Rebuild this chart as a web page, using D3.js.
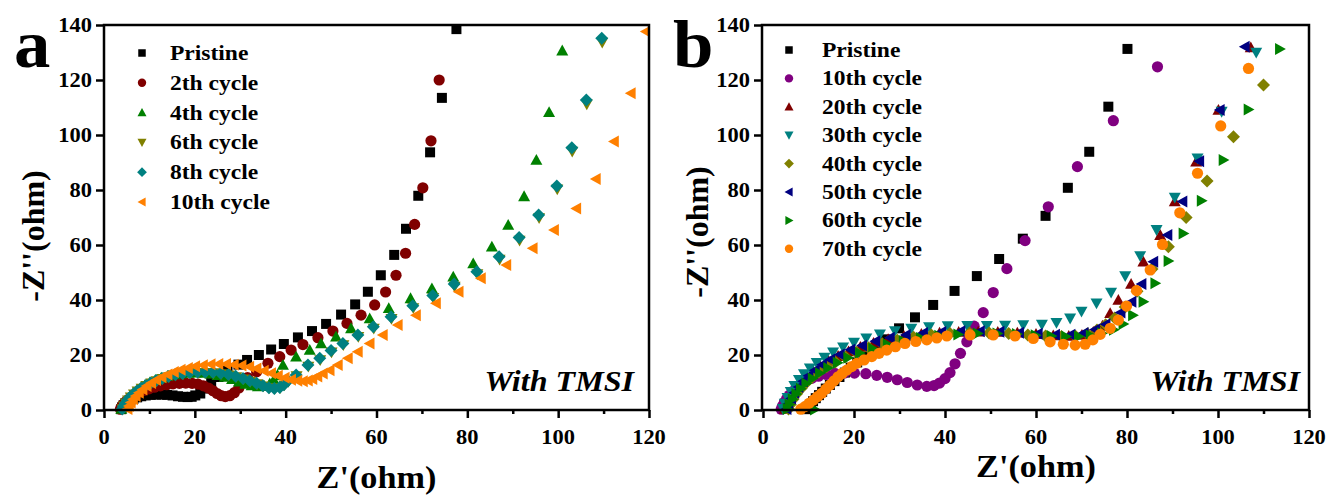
<!DOCTYPE html>
<html>
<head>
<meta charset="utf-8">
<script src="https://cdn.jsdelivr.net/npm/d3@7"></script>
<style>
  html, body { margin: 0; padding: 0; background: #fff; }
  svg { display: block; }
  text { font-family: "Liberation Serif", "Times New Roman", serif; font-weight: bold; fill: #000; }
</style>
</head>
<body>
<svg id="chart" width="1331" height="495"></svg>
<script>
// ---- Axis ticks ----
const xTicks = [0, 20, 40, 60, 80, 100, 120];
const xMinorTicks = [10, 30, 50, 70, 90, 110];
const yTicks = [0, 20, 40, 60, 80, 100, 120, 140];

// ---- Panel a: Nyquist plots, [Z', -Z''] in ohm ----
const aLabels = ["Pristine", "2th cycle", "4th cycle", "6th cycle", "8th cycle", "10th cycle"];
const aPristine = [[3.8,0.3],[4.0,1.0],[4.3,1.7],[4.7,2.4],[5.2,3.0],[5.8,3.6],[6.5,4.1],[7.3,4.6],[8.2,5.0],[9.2,5.3],[10.3,5.5],[11.5,5.6],[12.7,5.6],[13.9,5.5],[15.1,5.3],[16.3,5.0],[17.4,4.8],[18.4,4.7],[19.3,4.8],[20.1,5.3],[21.2,6.0],[22.3,7.8],[23.6,9.8],[25.2,12.0],[27.2,14.3],[29.6,16.5],[31.5,18.2],[34.1,20.0],[36.8,22.0],[39.6,24.0],[42.7,26.4],[45.8,28.7],[48.9,31.3],[52.2,34.7],[55.3,38.4],[58.1,43.0],[60.95,49.0],[63.9,56.4],[66.5,65.9],[69.2,77.9],[71.8,93.7],[74.4,113.5],[77.6,138.5]];
const a2th = [[3.6,0.3],[3.9,1.2],[4.3,2.1],[4.8,3.0],[5.4,3.9],[6.1,4.8],[6.9,5.6],[7.8,6.4],[8.8,7.1],[9.9,7.7],[11.1,8.3],[12.4,8.8],[13.8,9.2],[15.2,9.5],[16.6,9.7],[18.0,9.8],[19.4,9.7],[20.7,9.4],[21.9,8.8],[23.0,8.0],[24.0,7.0],[24.9,6.0],[25.8,5.2],[26.7,4.9],[27.7,5.2],[28.7,6.3],[29.7,8.0],[30.6,10.0],[31.6,11.8],[33.6,13.9],[36.1,17.0],[38.7,19.4],[41.2,21.8],[43.8,23.8],[47.1,26.3],[50.4,28.7],[53.5,31.5],[56.6,34.5],[59.6,38.2],[62.0,42.9],[64.3,49.0],[66.4,57.0],[68.4,67.5],[70.2,80.8],[72.0,97.9],[73.8,120.0]];
const a4th = [[3.8,0.4],[4.1,1.4],[4.5,2.5],[5.0,3.6],[5.6,4.7],[6.3,5.8],[7.1,6.9],[8.0,8.0],[9.0,9.0],[10.1,10.0],[11.3,10.9],[12.6,11.7],[14.0,12.4],[15.5,12.9],[17.0,13.3],[18.6,13.5],[20.2,13.6],[21.8,13.5],[23.4,13.2],[25.0,12.7],[26.6,12.0],[28.2,11.2],[29.7,10.3],[31.1,9.5],[32.5,8.9],[33.9,8.6],[35.3,8.7],[36.5,9.6],[37.4,11.0],[38.2,12.7],[39.4,16.4],[42.3,19.4],[45.3,21.8],[47.8,24.2],[51.1,26.7],[54.4,29.7],[58.5,33.3],[62.7,37.0],[67.5,40.6],[72.2,44.2],[76.9,48.5],[81.3,53.3],[85.4,59.4],[89.0,67.3],[92.5,77.7],[95.2,90.9],[98.0,108.3],[100.9,130.7]];
const a6th = [[4.1,0.3],[4.4,1.3],[4.8,2.4],[5.3,3.5],[5.9,4.6],[6.6,5.7],[7.4,6.8],[8.3,7.8],[9.3,8.8],[10.4,9.7],[11.6,10.5],[12.9,11.3],[14.3,12.0],[15.8,12.6],[17.4,13.0],[19.0,13.3],[20.7,13.5],[22.4,13.5],[24.1,13.4],[25.8,13.1],[27.5,12.6],[29.1,12.0],[30.7,11.2],[32.2,10.3],[33.7,9.4],[35.1,8.6],[36.4,8.0],[37.6,7.7],[38.8,8.0],[39.7,9.0],[40.6,10.3],[42.4,12.3],[45.0,15.8],[47.6,18.2],[50.1,21.0],[52.7,23.6],[56.0,26.6],[59.4,29.6],[63.3,33.2],[68.1,37.1],[72.5,40.8],[77.2,44.9],[82.2,49.4],[87.1,54.7],[91.5,61.6],[95.8,69.8],[99.8,80.3],[103.1,94.0],[106.3,111.2],[109.7,133.6]];
const a8th = [[4.0,0.4],[4.3,1.4],[4.7,2.5],[5.2,3.6],[5.8,4.7],[6.5,5.8],[7.3,6.9],[8.2,7.9],[9.2,8.9],[10.3,9.8],[11.5,10.7],[12.8,11.5],[14.2,12.2],[15.7,12.8],[17.3,13.3],[18.9,13.6],[20.6,13.8],[22.3,13.8],[24.0,13.7],[25.7,13.4],[27.4,12.9],[29.0,12.3],[30.6,11.5],[32.1,10.6],[33.6,9.7],[35.0,8.8],[36.3,8.1],[37.5,7.8],[38.7,8.2],[39.6,9.2],[40.5,10.6],[42.3,12.7],[44.9,16.4],[47.5,18.8],[50.0,21.6],[52.6,24.2],[55.9,27.3],[59.3,30.3],[63.2,33.9],[68.0,37.9],[72.4,41.6],[77.1,45.8],[82.1,50.3],[87.0,55.7],[91.4,62.7],[95.7,70.9],[99.7,81.5],[103.0,95.4],[106.2,112.7],[109.6,135.2]];
const a10th = [[5.2,0.4],[5.5,1.5],[5.9,2.7],[6.4,3.9],[7.0,5.1],[7.7,6.3],[8.5,7.5],[9.4,8.7],[10.4,9.8],[11.5,10.9],[12.7,11.9],[14.0,12.9],[15.4,13.8],[16.9,14.6],[18.5,15.3],[20.1,15.9],[21.8,16.3],[23.5,16.6],[25.2,16.7],[26.9,16.7],[28.6,16.5],[30.3,16.2],[32.0,15.7],[33.6,15.1],[35.2,14.3],[36.8,13.4],[38.3,12.5],[39.8,11.7],[41.2,11.0],[42.6,10.6],[43.8,10.5],[44.9,10.7],[45.9,11.3],[47.0,12.2],[48.2,13.3],[49.7,14.5],[51.5,16.4],[53.7,18.8],[55.9,21.2],[58.5,24.2],[61.4,27.3],[64.7,30.9],[68.7,34.5],[73.1,38.8],[78.1,43.0],[83.0,47.9],[88.6,52.7],[94.4,58.8],[99.1,65.5],[104.0,73.3],[108.3,84.0],[112.3,97.6],[116.0,115.2],[119.3,137.6]];
const aColors = ["#000000", "#800000", "#008000", "#808000", "#008080", "#ff8000"];
const aShapes = ["square", "circle", "up", "down", "diamond", "left"];

// ---- Panel b ----
const bLabels = ["Pristine", "10th cycle", "20th cycle", "30th cycle", "40th cycle", "50th cycle", "60th cycle", "70th cycle"];
const bPristine = [[9.6,0.3],[10.0,1.2],[10.5,2.2],[11.0,3.2],[11.6,4.3],[12.3,5.4],[13.0,6.6],[13.8,7.8],[14.7,9.1],[15.7,10.5],[16.8,12.0],[18.0,13.6],[19.3,15.4],[20.7,17.3],[22.2,19.4],[23.8,21.6],[25.3,23.7],[26.8,25.7],[29.9,29.7],[33.4,33.7],[37.4,38.2],[42.1,43.3],[47.0,48.7],[51.9,54.9],[57.1,62.3],[62.1,70.6],[67.0,80.8],[71.7,93.9],[75.9,110.3],[80.1,131.3]];
const b10th = [[4.0,0.3],[4.3,1.5],[4.7,2.8],[5.2,4.1],[5.8,5.4],[6.5,6.7],[7.3,8.0],[8.3,9.3],[9.4,10.5],[10.7,11.5],[12.2,12.3],[13.9,12.9],[15.8,13.3],[17.9,13.4],[20.1,13.4],[22.6,13.2],[25.0,12.6],[27.3,11.9],[29.5,11.0],[31.7,10.0],[33.9,9.1],[36.0,8.6],[37.6,8.9],[38.8,9.8],[40.0,11.4],[41.1,13.6],[42.2,16.8],[43.4,20.6],[44.8,24.8],[46.4,30.5],[48.4,35.4],[50.6,42.7],[53.6,51.4],[57.6,61.6],[62.7,73.9],[69.1,88.5],[77.0,105.2],[86.7,124.8]];
const b20th = [[4.8,0.4],[5.2,2.1],[5.8,4.0],[6.5,6.0],[7.4,8.0],[8.4,10.0],[9.6,12.0],[11.0,14.0],[12.6,15.9],[14.4,17.8],[16.5,19.6],[18.8,21.3],[21.4,22.9],[24.3,24.4],[27.5,25.7],[31.0,26.8],[34.8,27.6],[38.8,28.1],[43.0,28.4],[47.3,28.5],[51.6,28.4],[55.9,28.1],[60.0,27.6],[63.8,27.1],[67.2,26.9],[70.1,27.3],[72.6,28.4],[74.6,30.6],[76.3,35.2],[78.1,40.0],[80.9,45.8],[83.6,53.9],[87.3,63.6],[90.5,75.8],[95.2,90.3],[100.1,109.1],[107.2,131.8]];
const b30th = [[4.4,0.4],[4.8,2.3],[5.4,4.4],[6.1,6.6],[6.9,8.8],[7.9,11.0],[9.0,13.1],[10.3,15.2],[11.8,17.2],[13.5,19.1],[15.4,21.0],[17.6,22.8],[20.0,24.5],[22.7,26.1],[25.7,27.5],[29.0,28.7],[32.6,29.6],[36.5,30.2],[40.6,30.5],[44.9,30.6],[49.2,30.6],[53.2,30.7],[57.2,30.9],[61.3,31.1],[64.5,31.7],[67.5,33.3],[70.0,35.8],[73.3,38.8],[76.5,42.7],[79.6,48.7],[82.9,56.0],[86.5,65.5],[90.5,77.3],[95.5,91.5],[100.8,108.5],[108.4,130.0]];
const b40th = [[5.6,0.4],[6.0,2.0],[6.6,3.9],[7.4,5.9],[8.4,7.9],[9.5,9.9],[10.8,11.9],[12.3,13.8],[14.0,15.7],[15.9,17.5],[18.1,19.3],[20.5,21.0],[23.2,22.6],[26.2,24.1],[29.5,25.4],[33.1,26.5],[37.0,27.3],[41.1,27.8],[45.4,28.0],[49.7,28.0],[54.0,27.8],[58.2,27.3],[62.1,26.9],[65.6,26.7],[68.7,26.8],[71.3,27.7],[73.4,29.1],[75.3,31.0],[77.3,33.5],[79.6,37.5],[82.2,43.2],[85.5,51.3],[89.1,59.4],[93.0,70.0],[97.6,83.3],[103.4,99.4],[110.0,118.2],[118.6,142.5]];
const b50th = [[5.2,0.4],[5.6,2.2],[6.2,4.2],[6.9,6.3],[7.8,8.4],[8.8,10.5],[10.0,12.5],[11.4,14.5],[13.0,16.5],[14.8,18.4],[16.9,20.2],[19.2,21.9],[21.8,23.5],[24.7,25.0],[27.9,26.3],[31.4,27.3],[35.2,28.0],[39.2,28.4],[43.4,28.6],[47.7,28.6],[52.0,28.5],[56.3,28.1],[60.4,27.7],[64.2,27.4],[67.6,27.4],[70.5,28.0],[73.0,29.3],[75.3,31.2],[78.6,35.5],[81.0,39.4],[83.2,45.8],[85.8,53.9],[88.9,63.6],[92.2,75.8],[95.9,90.5],[100.4,109.1],[105.9,132.1]];
const b60th = [[11.4,0.2],[5.4,0.4],[5.8,2.0],[6.5,3.9],[7.3,5.8],[8.3,7.7],[9.5,9.6],[10.9,11.5],[12.5,13.4],[14.3,15.3],[16.4,17.2],[18.7,19.0],[21.3,20.7],[24.2,22.3],[27.4,23.8],[30.9,25.1],[34.7,26.2],[38.7,27.0],[42.9,27.5],[47.2,27.8],[51.5,27.8],[55.8,27.6],[59.9,27.2],[63.4,26.9],[66.6,26.7],[69.4,26.7],[72.0,27.1],[74.5,27.9],[77.1,29.2],[79.2,31.3],[81.3,34.5],[83.6,39.4],[86.2,46.1],[89.1,54.2],[92.4,64.2],[96.4,76.1],[101.2,90.9],[106.7,109.3],[113.6,131.3]];
const b70th = [[8.3,0.3],[9.2,1.2],[10.1,2.4],[11.1,3.6],[12.0,4.9],[12.9,6.1],[13.8,7.6],[14.7,9.1],[15.6,10.6],[16.5,12.1],[17.4,13.3],[18.4,14.5],[19.5,15.8],[20.6,17.0],[22.2,18.2],[23.9,19.4],[25.5,20.6],[27.2,21.8],[29.1,23.0],[31.2,24.2],[33.6,24.9],[36.0,25.5],[38.2,26.2],[40.4,26.9],[45.5,27.3],[50.6,27.3],[55.4,26.9],[59.4,26.0],[63.1,24.8],[66.0,23.9],[68.6,23.6],[70.8,23.9],[72.5,25.5],[74.1,27.5],[76.3,29.7],[78.1,32.7],[79.9,37.8],[82.1,43.4],[85.1,50.9],[87.8,60.2],[91.6,71.7],[95.5,86.1],[100.6,103.3],[106.7,124.2]];
const bColors = ["#000000", "#800080", "#800000", "#008080", "#808000", "#000080", "#008000", "#ff8000"];
const bShapes = ["square", "circle", "up", "down", "diamond", "left", "right", "circle"];

// ---- Drawing ----
const svg = d3.select("#chart");
const SX = 1.07; // horizontal stretch applied to upright text

function label(parent, str, x, y, size, anchor, italic) {
  return parent.append("text")
    .attr("transform", `translate(${x},${y}) scale(${SX},1)`)
    .attr("font-size", size)
    .attr("text-anchor", anchor || "start")
    .attr("font-style", italic ? "italic" : "normal")
    .text(str);
}

function markerPath(shape, k) {
  const r = 6 * k;
  switch (shape) {
    case "square": { const s = 5 * k; return `M${-s},${-s}H${s}V${s}H${-s}Z`; }
    case "circle": { const c = 5.6 * k; return `M${c},0A${c},${c} 0 1,1 ${-c},0A${c},${c} 0 1,1 ${c},0Z`; }
    case "up": return `M0,${-r}L${r},${r * 0.8}L${-r},${r * 0.8}Z`;
    case "down": return `M0,${r}L${r},${-r * 0.8}L${-r},${-r * 0.8}Z`;
    case "left": return `M${-r},0L${r * 0.8},${-r}L${r * 0.8},${r}Z`;
    case "right": return `M${r},0L${-r * 0.8},${-r}L${-r * 0.8},${r}Z`;
    case "diamond": { const d = 6.5 * k; return `M0,${-d}L${d},0L0,${d}L${-d},0Z`; }
  }
}

function panel(cfg) {
  const x = d3.scaleLinear().domain([0, 120]).range([cfg.left, cfg.right]);
  const y = d3.scaleLinear().domain([0, 140]).range([410, 25]);
  const g = svg.append("g");
  const off = cfg.frameOffset || 0;

  const clipId = "clip-" + cfg.letter;
  svg.append("clipPath").attr("id", clipId)
    .append("rect").attr("x", cfg.left - 8).attr("y", 25)
    .attr("width", cfg.right - cfg.left + 8).attr("height", 393);

  // scatter series, later series on top
  const plot = g.append("g").attr("clip-path", `url(#${clipId})`);
  cfg.series.forEach((data, i) => {
    plot.append("g").selectAll("path").data(data).join("path")
      .attr("d", markerPath(cfg.shapes[i], 1))
      .attr("transform", d => `translate(${x(d[0])},${y(d[1])})`)
      .attr("fill", cfg.colors[i]);
  });

  // frame
  g.append("rect")
    .attr("x", x(0) - off).attr("y", y(140))
    .attr("width", x(120) - x(0) + off).attr("height", y(0) - y(140))
    .attr("fill", "none").attr("stroke", "#000").attr("stroke-width", 2.5);

  // bottom axis: outward major + minor ticks; left axis: outward majors
  g.append("g").attr("transform", `translate(0,${y(0)})`)
    .call(d3.axisBottom(x).tickValues(xTicks).tickSize(8).tickFormat(""));
  g.append("g").attr("transform", `translate(0,${y(0)})`)
    .call(d3.axisBottom(x).tickValues(xMinorTicks).tickSize(4).tickFormat(""));
  g.append("g").attr("transform", `translate(${x(0) - off},0)`)
    .call(d3.axisLeft(y).tickValues(yTicks).tickSize(8).tickFormat(""));
  g.selectAll(".domain").remove();
  g.selectAll(".tick line").attr("stroke", "#000").attr("stroke-width", 2.5);

  xTicks.forEach(v => label(g, String(v), x(v), 444, 21, "middle"));
  yTicks.forEach(v => label(g, String(v), x(0) - 12 - off, y(v) + 7, 21, "end"));

  // axis titles
  label(g, "Z'(ohm)", (cfg.left + cfg.right) / 2, cfg.xTitleY, 32, "middle");
  g.append("text")
    .attr("transform", `translate(${cfg.yTitleX},${cfg.yTitleY}) rotate(-90)`)
    .attr("font-size", 32).attr("text-anchor", "middle")
    .text("-Z''(ohm)");

  // panel letter
  label(g, cfg.letter, cfg.letterX, 67, 68, "start");

  // annotation
  label(g, "With TMSI", cfg.noteX, 391, 30, "end", true);

  // legend
  const lg = g.append("g");
  cfg.labels.forEach((name, i) => {
    const cy = cfg.legY0 + i * cfg.legStep;
    lg.append("path").attr("d", markerPath(cfg.shapes[i], 0.75))
      .attr("transform", `translate(${cfg.legMX},${cy})`)
      .attr("fill", cfg.colors[i]);
    label(lg, name, cfg.legTX, cy + 7, 22, "start");
  });
}

panel({
  letter: "a", left: 104, right: 649, letterX: 14,
  series: [aPristine, a2th, a4th, a6th, a8th, a10th],
  colors: aColors, shapes: aShapes, labels: aLabels,
  xTitleY: 488, yTitleX: 44, yTitleY: 236, noteX: 634,
  legMX: 142, legTX: 170, legY0: 53, legStep: 29.8
});

panel({
  letter: "b", left: 763, right: 1309, letterX: 673, frameOffset: 1,
  series: [bPristine, b10th, b20th, b30th, b40th, b50th, b60th, b70th],
  colors: bColors, shapes: bShapes, labels: bLabels,
  xTitleY: 477, yTitleX: 708, yTitleY: 232, noteX: 1300,
  legMX: 789, legTX: 822, legY0: 50, legStep: 28.4
});
</script>
</body>
</html>
